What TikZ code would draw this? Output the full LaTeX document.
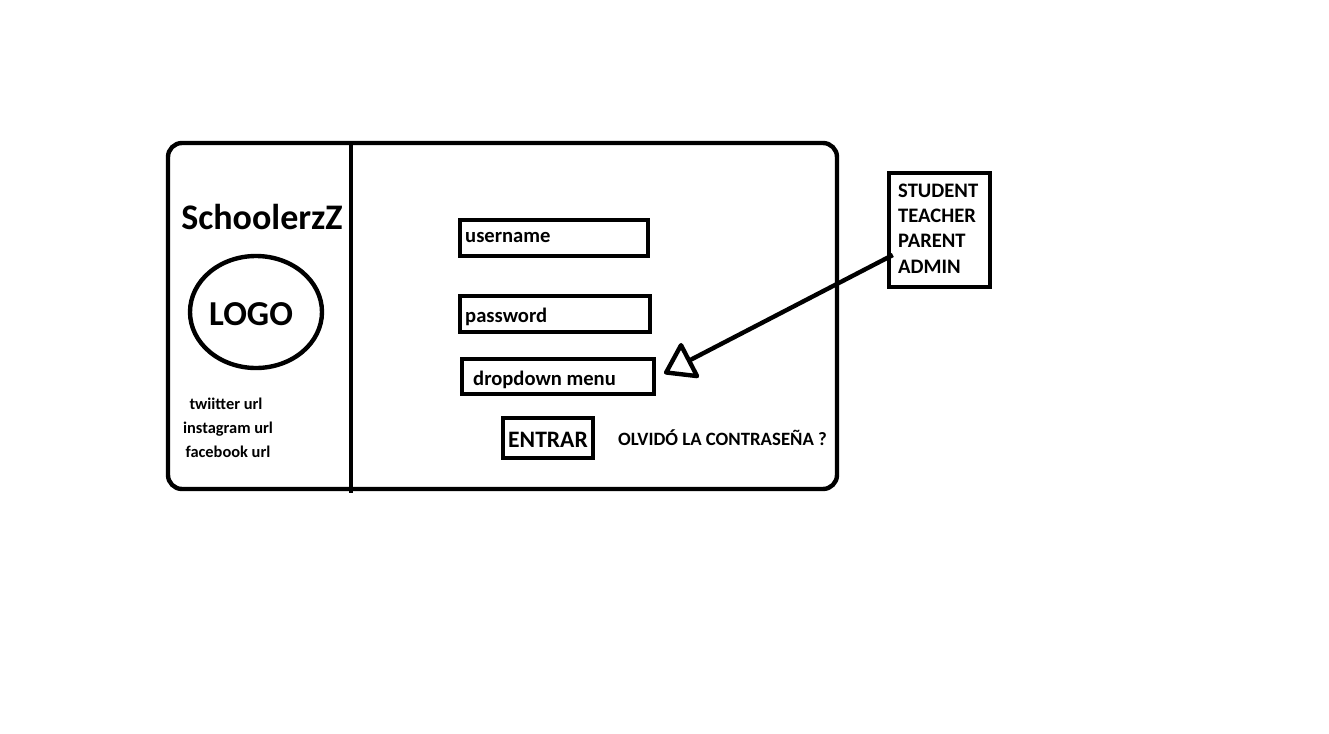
\documentclass[tikz,border=0pt]{standalone}
\usepackage{fontspec}
\setmainfont{Carlito}
\usetikzlibrary{calc, arrows.meta, shapes.geometric}

\begin{document}
\begin{tikzpicture}[x=0.5pt, y=-0.5pt, line width=2.2pt,
	box/.style={draw, rectangle, inner sep=0pt},
	txt/.style={inner sep=0pt, font=\bfseries\fontsize{10.3}{12}\selectfont},
	small/.style={inner sep=0pt, anchor=base, font=\bfseries\fontsize{8.2}{10}\selectfont}]

		\useasboundingbox (0,0) rectangle (1329,734);

		\coordinate (frameTL) at (168,143);
		\coordinate (frameBR) at (837,489);
		\coordinate (divTop) at (351,143);
		\coordinate (divBot) at (351,493);

		\draw[rounded corners=7pt] (frameTL) rectangle (frameBR);
		\draw (divTop) -- (divBot);

		% left panel
		\node[txt, anchor=base, font=\bfseries\fontsize{18}{20}\selectfont] (brand) at (262,229) {SchoolerzZ};
		\node[draw, ellipse, inner sep=0pt, minimum width=66pt, minimum height=56pt] (logo) at (256,312) {};
		\node[txt, anchor=base, font=\bfseries\fontsize{17.5}{20}\selectfont] (logoTxt) at (251,325) {LOGO};

		\node[small] (twitter) at (226,409) {twiitter url};
		\node[small] (insta) at (228,433) {instagram url};
		\node[small] (face) at (228,457) {facebook url};

		% form
		\node[box, minimum width=94pt, minimum height=18pt] (user) at (554,238) {};
		\node[txt, anchor=base west] (userTxt) at (463,242) {username};

		\node[box, minimum width=95pt, minimum height=18pt] (pass) at (555,314) {};
		\node[txt, anchor=base west] (passTxt) at (463,322) {password};

		\node[box, minimum width=96pt, minimum height=17.5pt] (drop) at (558,376.5) {};
		\node[txt, anchor=base west] (dropTxt) at (471,385) {dropdown menu};

		\node[box, minimum width=45pt, minimum height=20pt] (entrar) at (548,438) {};
		\node[txt, anchor=base, font=\bfseries\fontsize{11.8}{14}\selectfont] (entrarTxt) at (548,447) {ENTRAR};
		\node[txt, anchor=base west, font=\bfseries\fontsize{9.4}{11}\selectfont] (forgot) at (616,445) {OLVIDÓ LA CONTRASEÑA ?};

		% roles
		\node[box, minimum width=50.5pt, minimum height=57pt] (roles) at (939.5,230) {};
		\node[txt, anchor=base west] (student) at (896,197) {STUDENT};
		\node[txt, anchor=base west] (teacher) at (896,222) {TEACHER};
		\node[txt, anchor=base west] (parent) at (896,247) {PARENT};
		\node[txt, anchor=base west] (admin) at (896,273) {ADMIN};

		\coordinate (pick) at ($(roles.west)+(6,25)$);
		\coordinate (dropTip) at ($(drop.east)+(8,-3)$);
		\draw[-{Triangle[open, length=16pt, width=21pt, round]}] (pick) -- (dropTip);

	\end{tikzpicture}
\end{document}
